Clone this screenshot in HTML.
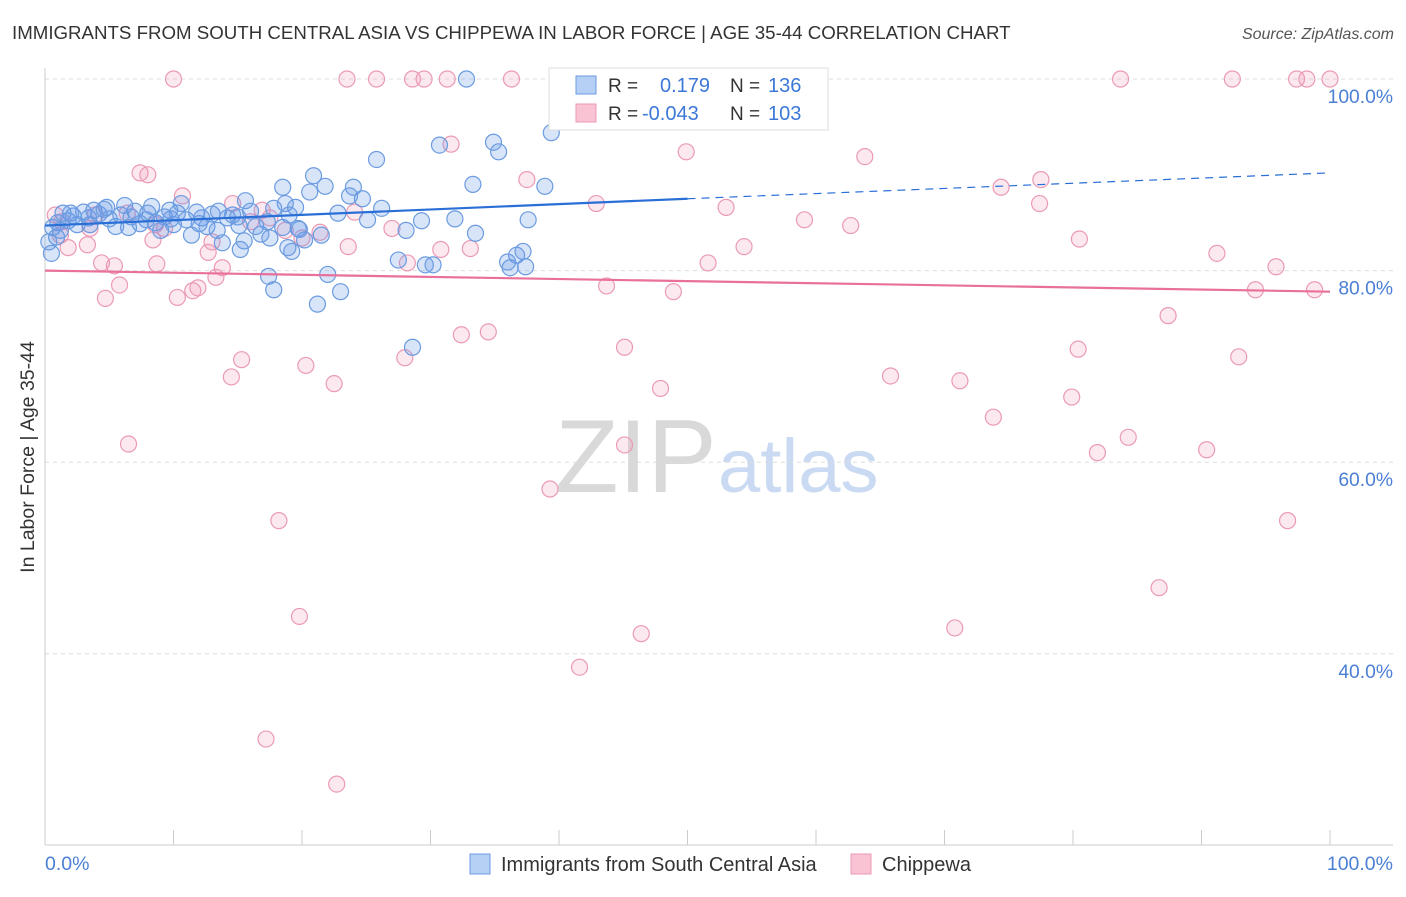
<!DOCTYPE html>
<html><head><meta charset="utf-8"><style>
body{margin:0;background:#fff;width:1406px;height:892px;overflow:hidden;font-family:"Liberation Sans",sans-serif}
svg text{font-family:"Liberation Sans",sans-serif}
</style></head><body>
<svg id="chart" width="1406" height="892" xmlns="http://www.w3.org/2000/svg">
<text x="12" y="39" font-size="18.7" fill="#333">IMMIGRANTS FROM SOUTH CENTRAL ASIA VS CHIPPEWA IN LABOR FORCE | AGE 35-44 CORRELATION CHART</text>
<text x="1394" y="39" font-size="16" fill="#555" font-style="italic" text-anchor="end">Source: ZipAtlas.com</text>
<g>
<text x="555" y="492" font-size="104" fill="#d9d9d9" font-family="Liberation Serif,serif">ZIP</text>
<text x="718" y="492" font-size="76" fill="#c9daf2">atlas</text>
</g>
<g id="grid"></g>
<g id="axes"></g>
<g id="pinkPts"></g>
<g id="bluePts"></g>
<g id="trends"></g>
<text transform="translate(34,457) rotate(-90)" font-size="19.5" fill="#333" text-anchor="middle">In Labor Force | Age 35-44</text>
<text x="45" y="870" font-size="19.5" fill="#4a7fd4">0.0%</text>
<text x="1393" y="870" font-size="19.5" fill="#4a7fd4" text-anchor="end">100.0%</text>
<g>
<rect x="549" y="68" width="279" height="62" fill="#fff" stroke="#ddd"/>
<rect x="576" y="76" width="20" height="18" fill="#b5cff5" stroke="#6b9be0"/>
<rect x="576" y="104" width="20" height="18" fill="#f9c3d4" stroke="#eb9ab5"/>
<text x="608" y="92" font-size="19" fill="#333">R =</text>
<text x="660" y="92" font-size="20" fill="#3b78d8">0.179</text>
<text x="730" y="92" font-size="19" fill="#333">N =</text>
<text x="768" y="92" font-size="20" fill="#3b78d8">136</text>
<text x="608" y="120" font-size="19" fill="#333">R =</text>
<text x="642" y="120" font-size="20" fill="#3b78d8">-0.043</text>
<text x="730" y="120" font-size="19" fill="#333">N =</text>
<text x="768" y="120" font-size="20" fill="#3b78d8">103</text>
</g>
<g>
<rect x="470" y="854" width="20" height="20" fill="#b5cff5" stroke="#6b9be0"/>
<text x="501" y="871" font-size="20" fill="#333">Immigrants from South Central Asia</text>
<rect x="851" y="854" width="20" height="20" fill="#f9c3d4" stroke="#eb9ab5"/>
<text x="882" y="871" font-size="20" fill="#333">Chippewa</text>
</g>
</svg>
<script>
const yTicks=[100,80,60,40];
const xTickCount=[0,10,20,30,40,50,60,70,80,90,100];
const blueX=[32.8,39.4,30.7,34.9,35.3,25.8,33.3,38.9,20.9,18.5,21.8,24,23.7,24.7,20.6,15.6,18.7,19.5,26.2,22.8,25.1,29.3,31.9,37.6,19.7,21.5,20.2,28.1,33.5,19.2,18.9,27.5,29.6,30.2,36,36.7,37.2,36.2,37.4,17.4,22,17.8,23,21.2,28.6,17.5,15.2,
0.3,0.5,0.6,0.9,1,1.4,1.8,2.2,2.5,3,3.4,3.8,4.2,4.6,5,5.5,5.9,6.2,6.7,7,7.4,7.9,8.3,8.6,9,9.3,9.7,10,10.3,10.6,11,11.4,11.8,12.2,12.6,13,13.4,13.8,14.2,14.6,15.1,15.5,16,16.4,16.8,17.3,17.8,18.5,19,19.8,1.2,2,3.5,4.8,6.5,8,9.8,12,13.5,15];
const blueY=[100,94.4,93.1,93.4,92.4,91.6,89,88.8,89.9,88.7,88.8,88.7,87.8,87.5,88.2,87.3,87,86.6,86.5,86,85.3,85.2,85.4,85.3,84.4,83.7,83.2,84.2,83.9,82,82.4,81.1,80.6,80.6,80.9,81.6,82,80.3,80.4,79.4,79.6,78,77.8,76.5,72,83.4,82.2,
83,81.8,84.5,83.5,85,86,85.2,85.7,84.8,86.1,85.5,86.3,85.9,86.4,85.4,84.6,85.8,86.8,85.6,86.2,84.9,85.3,86.7,85,84.2,85.6,86.3,84.8,86,87,85.3,83.7,86.1,85.5,84.6,85.9,84.2,82.9,85.5,85.8,84.7,83.1,86.2,84.6,83.8,85.1,86.5,84.5,85.8,84.3,84.2,86,84.8,86.6,84.5,86,85.4,84.9,86.2,85.6];
const pinkX=[10,23.5,25.8,28.6,29.5,31.3,36.3,83.7,92.4,97.4,98.2,100,45.7,55.9,49.9,63.8,31.6,7.4,8,37.5,74.4,77.5,10.7,42.9,53,77.4,59.1,62.7,14.6,16.9,80.5,54.4,23.6,30.8,33.1,91.2,51.6,28.2,4.4,8.7,5.4,13.8,95.8,13.3,5.8,43.7,48.9,94.2,98.8,11.9,11.5,10.3,4.7,87.4,34.5,32.4,45.1,80.4,92.9,28,15.3,20.3,14.5,65.8,71.2,22.5,47.9,79.9,73.8,84.3,6.5,45.1,81.9,90.4,39.3,18.2,96.7,86.7,19.8,70.8,46.4,41.6,17.2,22.7,
0.8,1.2,1.8,3.3,3.5,3.9,8.4,6.4,8.6,9.3,12.7,13,16,17.5,18.7,20,21.4,24.1,27,1.3];
const pinkY=[100,100,100,100,100,100,100,100,100,100,100,100,96.9,96.5,92.4,91.9,93.2,90.2,90,89.5,88.7,89.5,87.8,87,86.6,87,85.3,84.7,87,86.3,83.3,82.5,82.5,82.2,82.3,81.8,80.8,80.8,80.8,80.7,80.5,80.3,80.4,79.3,78.5,78.4,77.8,78,78,78.2,77.9,77.2,77.1,75.3,73.6,73.3,72,71.8,71,70.9,70.7,70.1,68.9,69,68.5,68.2,67.7,66.8,64.7,62.6,61.9,61.8,61,61.3,57.2,53.9,53.9,46.9,43.9,42.7,42.1,38.6,31.1,26.4,
85.8,83.7,82.4,82.7,84.4,85.8,83.2,86,84.8,84.4,81.9,83,85.1,85.5,84.2,83.4,84,86.1,84.4,85.1];
const blueTrend=[84.7,87.5,90.2]; // at x=0,50,100
const pinkTrend=[80,77.8]; // at x=0,100
const NS="http://www.w3.org/2000/svg";
const sx=v=>45+v*12.85, sy=v=>79+(100-v)*9.58;
function mk(parent,tag,attrs){const e=document.createElementNS(NS,tag);for(const k in attrs)e.setAttribute(k,attrs[k]);document.getElementById(parent).appendChild(e);return e;}
yTicks.forEach(t=>{
  const l=mk('grid','line',{x1:45,x2:1393,y1:sy(t),y2:sy(t),stroke:'#ddd','stroke-dasharray':'4,4'});
  
  
  const tx=mk('grid','text',{x:1393,y:sy(t)+24,'font-size':19.3,fill:'#4a7fd4','text-anchor':'end'});
  tx.textContent=t.toFixed(1)+'%';
  
  
});
const ya=mk('axes','line',{x1:45,x2:45,y1:68,y2:845,stroke:'#ccc'});


const xa=mk('axes','line',{x1:45,x2:1393,y1:845,y2:845,stroke:'#ccc'});


xTickCount.forEach(t=>{
  const l=mk('axes','line',{x1:sx(t),x2:sx(t),y1:830,y2:845,stroke:'#ccc'});
  
  
});
pinkX.forEach((x,i)=>{
  const c=mk('pinkPts','circle',{cx:sx(x),cy:sy(pinkY[i]),r:8,fill:'rgba(240,150,180,0.22)',stroke:'#eb9ab5','stroke-width':1.2});
  
  
});
blueX.forEach((x,i)=>{
  const c=mk('bluePts','circle',{cx:sx(x),cy:sy(blueY[i]),r:8,fill:'rgba(100,150,230,0.25)',stroke:'#6b9be0','stroke-width':1.2});
  
  
});
const bt=mk('trends','line',{x1:sx(0),y1:sy(blueTrend[0]),x2:sx(50),y2:sy(blueTrend[1]),stroke:'#2a6fd6','stroke-width':2.2});


const bd=mk('trends','line',{x1:sx(50),y1:sy(blueTrend[1]),x2:sx(100),y2:sy(blueTrend[2]),stroke:'#2a6fd6','stroke-width':1.2,'stroke-dasharray':'8,6'});


const pt=mk('trends','line',{x1:sx(0),y1:sy(pinkTrend[0]),x2:sx(100),y2:sy(pinkTrend[1]),stroke:'#e8709a','stroke-width':2.2});


</script>
</body></html>
